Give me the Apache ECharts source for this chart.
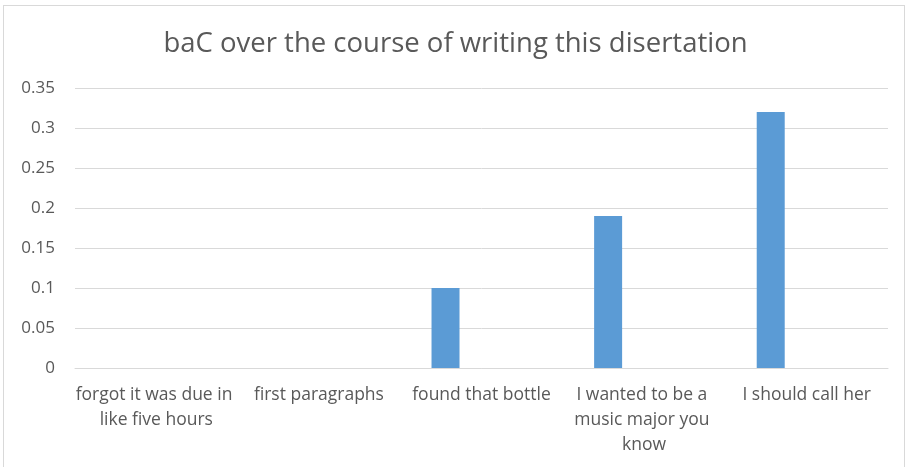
<!DOCTYPE html>
<html>
<head>
<meta charset="utf-8">
<script src="https://cdn.jsdelivr.net/npm/echarts@6/dist/echarts.min.js"></script>
<style>
html,body{margin:0;padding:0;background:#fff;}
#frame{position:absolute;left:3px;top:5px;width:902px;height:470px;border:1px solid #d9d9d9;box-sizing:border-box;}
#c{position:absolute;left:0;top:0;width:911px;height:467px;}
</style>
</head>
<body>
<div id="frame"></div>
<div id="c"></div>
<script>
const titleText = "baC over the course of writing this disertation";
const categories = ["forgot it was due in like five hours", "first paragraphs", "found that bottle", "I wanted to be a music major you know", "I should call her"];
const bacValues = [0, 0, 0.1, 0.19, 0.32];
const emptyValues = [null, null, null, null, null];
const yTicks = [0, 0.05, 0.1, 0.15, 0.2, 0.25, 0.3, 0.35];

const chart = echarts.init(document.getElementById('c'));
const txt = '#595959';
const font = '"Open Sans", sans-serif';
chart.setOption({
  animation: false,
  title: {
    text: titleText, left: 'center', top: 25,
    textStyle: {color: txt, fontSize: 27.5, fontWeight: 'normal', fontFamily: font}
  },
  grid: {left: 75, right: 23, top: 88, bottom: 99},
  xAxis: {
    type: 'category', data: categories,
    axisLine: {lineStyle: {color: '#d9d9d9', width: 1}},
    axisTick: {show: false},
    axisLabel: {color: txt, fontSize: 17.5, fontFamily: font, margin: 15, interval: 0,
      width: 165, overflow: 'break', lineHeight: 25}
  },
  yAxis: {
    type: 'value', min: yTicks[0], max: yTicks[yTicks.length - 1], interval: 0.05,
    axisLine: {show: false}, axisTick: {show: false},
    splitLine: {lineStyle: {color: '#d9d9d9', width: 1}},
    axisLabel: {color: txt, fontSize: 17, fontFamily: font, margin: 20,
      formatter: v => String(+v.toFixed(2))}
  },
  series: [
    {type: 'bar', data: bacValues, barWidth: 28, barGap: '157%',
      itemStyle: {color: '#5B9BD5'}},
    {type: 'bar', data: emptyValues, barWidth: 28}
  ]
});
</script>
</body>
</html>
